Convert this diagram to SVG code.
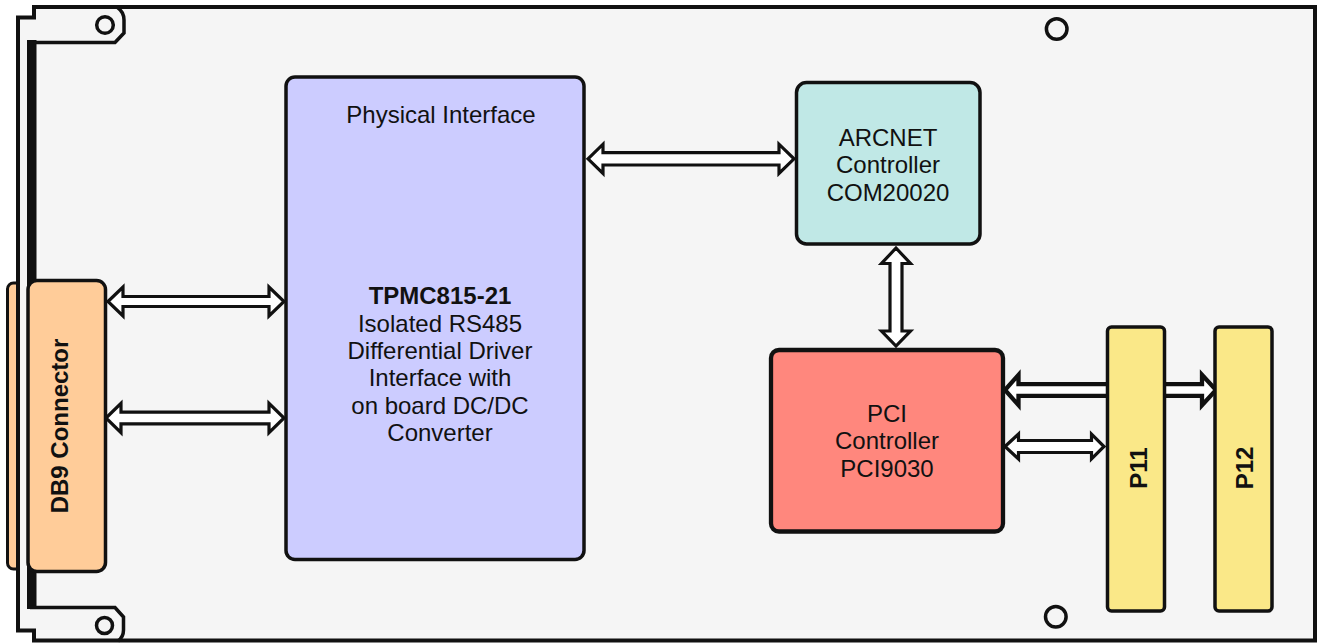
<svg xmlns="http://www.w3.org/2000/svg" width="1321" height="643" viewBox="0 0 1321 643">
  <style>
    .ln { fill: none; stroke: #111; stroke-width: 3.5; stroke-linejoin: miter; }
    .hole { fill: none; stroke: #111; stroke-width: 3.5; }
    .box { stroke: #111; stroke-width: 3.5; }
    .arrow { fill: #ffffff; stroke: #111; stroke-width: 3.2; stroke-linejoin: miter; }
    .t { font-family: "Liberation Sans", Arial, sans-serif; font-size: 24px; fill: #111; text-anchor: middle; }
    .b { font-weight: bold; }
  </style>
  <rect x="0" y="0" width="1321" height="643" fill="#ffffff"/>
  <g id="board">
    <rect x="7.5" y="283" width="20" height="286" rx="6" fill="#FFCC99" stroke="#111" stroke-width="3"/>
    <path d="M 34,7 H 1315 V 640.5 H 34 V 630.5 H 18 V 17.5 H 34 Z" fill="#F5F5F5" stroke="#111" stroke-width="4"/>
    <rect x="27" y="40" width="9.5" height="569" fill="#111"/>
    <path class="ln" d="M 30,42.5 H 115 L 124,33 V 20 Q 124,12 117,7"/>
    <path class="ln" d="M 30,607.5 H 115 L 123.5,617 V 630 Q 123.5,637 118,641"/>
    <circle class="hole" cx="105" cy="25" r="8.3"/>
    <circle class="hole" cx="104.5" cy="625.5" r="8"/>
    <circle class="hole" cx="1056.7" cy="29" r="10.3"/>
    <circle class="hole" cx="1055.8" cy="616.7" r="10.3"/>
  </g>
  <g id="connectors">
    <path class="arrow" d="M 108,301.5 L 123,287 L 123,296.5 L 269,296.5 L 269,287 L 284,301.5 L 269,316 L 269,306.5 L 123,306.5 L 123,316 Z"/>
    <path class="arrow" d="M 106,418 L 121,403.4 L 121,412.2 L 269,412.2 L 269,403.4 L 284,418 L 269,432.6 L 269,423.8 L 121,423.8 L 121,432.6 Z"/>
    <path class="arrow" d="M 588,158.8 L 603,144.2 L 603,152.6 L 779,152.6 L 779,144.2 L 794,158.8 L 779,173.4 L 779,165 L 603,165 L 603,173.4 Z"/>
    <path class="arrow" d="M 896,248 L 910.5,263.5 L 902,263.5 L 902,331 L 910.5,331 L 896,346 L 881.5,331 L 890,331 L 890,263.5 L 881.5,263.5 Z"/>
    <path class="arrow" style="stroke-width:4.3" d="M 1005,390 L 1018.5,374.8 L 1018.5,384.2 L 1202,384.2 L 1202,374.8 L 1216,390 L 1202,405.2 L 1202,395.8 L 1018.5,395.8 L 1018.5,405.2 Z"/>
    <path class="arrow" d="M 1005,446.5 L 1018.5,434 L 1018.5,440.5 L 1091.5,440.5 L 1091.5,434 L 1104,446.5 L 1091.5,459 L 1091.5,452.5 L 1018.5,452.5 L 1018.5,459 Z"/>
  </g>
  <g id="db9">
    <rect class="box" x="28" y="280.5" width="77.5" height="291" rx="9" fill="#FFCC99"/>
    <text class="t b" transform="translate(68,426) rotate(-90)">DB9 Connector</text>
  </g>
  <g id="physical-interface">
    <rect class="box" x="286" y="77" width="298" height="482.5" rx="9" fill="#CCCCFF"/>
    <text class="t" x="441" y="123">Physical Interface</text>
    <text class="t b" x="440" y="304">TPMC815-21</text>
    <text class="t" x="440" y="331.5">Isolated RS485</text>
    <text class="t" x="440" y="359">Differential Driver</text>
    <text class="t" x="440" y="386">Interface with</text>
    <text class="t" x="440" y="413.5">on board DC/DC</text>
    <text class="t" x="440" y="441">Converter</text>
  </g>
  <g id="arcnet">
    <rect class="box" x="796.5" y="82.5" width="183.5" height="161.5" rx="10" fill="#C0E8E6"/>
    <text class="t" x="888" y="146">ARCNET</text>
    <text class="t" x="888" y="173">Controller</text>
    <text class="t" x="888" y="200.5">COM20020</text>
  </g>
  <g id="pci">
    <rect class="box" x="771" y="350" width="232" height="181.5" rx="8" fill="#FF877D" style="stroke-width:4.3"/>
    <text class="t" x="887" y="421.7">PCI</text>
    <text class="t" x="887" y="449.2">Controller</text>
    <text class="t" x="887" y="476.7">PCI9030</text>
  </g>
  <g id="p11">
    <rect class="box" x="1107.5" y="327" width="57" height="284" rx="4" fill="#FAE888"/>
    <text class="t b" transform="translate(1147,468) rotate(-90)">P11</text>
  </g>
  <g id="p12">
    <rect class="box" x="1215" y="327" width="57" height="284" rx="4" fill="#FAE888"/>
    <text class="t b" transform="translate(1253,468) rotate(-90)">P12</text>
  </g>
</svg>
